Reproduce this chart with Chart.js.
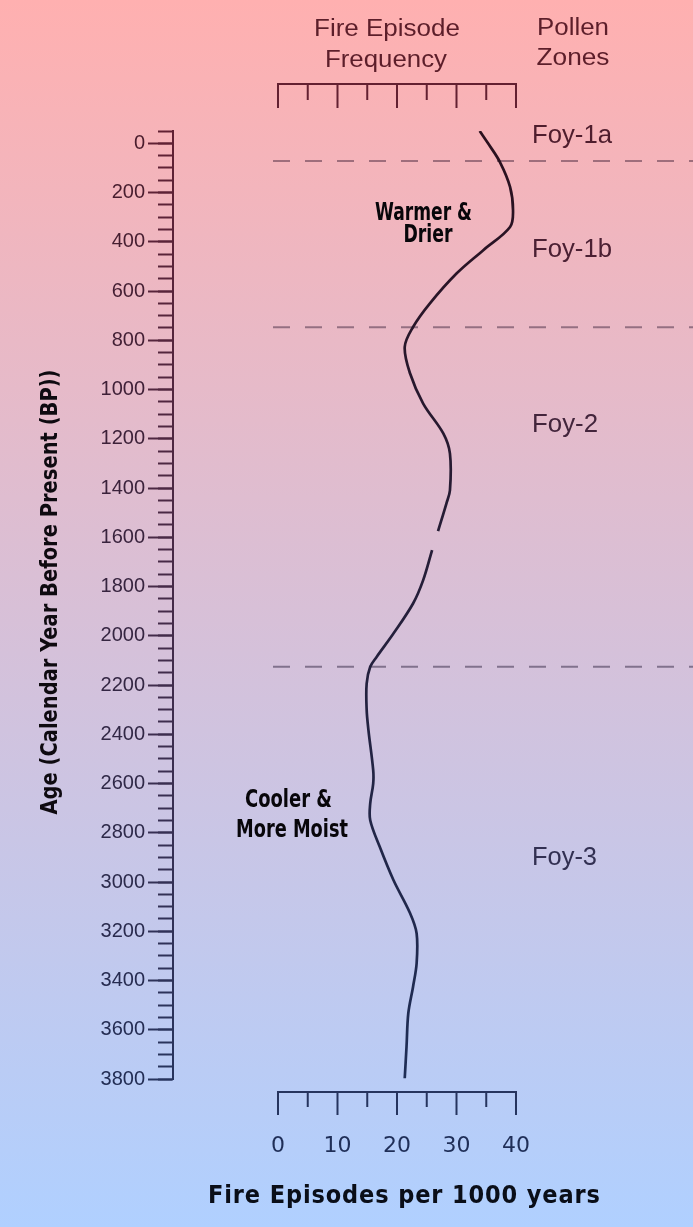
<!DOCTYPE html>
<html><head><meta charset="utf-8">
<script src="https://cdn.jsdelivr.net/npm/chart.js@4.4.1/dist/chart.umd.min.js"></script>
<style>
html,body{margin:0;padding:0;}
body{width:693px;height:1227px;overflow:hidden;background:linear-gradient(to bottom,#ffb0b0 0%,#b0d0ff 100%);}
#wrap{position:relative;width:693px;height:1227px;}
</style></head><body>
<div id="wrap"><canvas id="c"></canvas></div>
<script>
// ---- data ----
const ages = [-50, 0, 76, 177, 272, 340, 434, 529, 651, 746, 827, 935, 1057, 1179, 1260, 1409, 1463, 1575, 1610, 1652, 1774, 1869, 1991, 2085, 2126, 2194, 2300, 2383, 2546, 2600, 2681, 2749, 2857, 2992, 3127, 3209, 3330, 3425, 3533, 3669, 3797];
const fireFreq = [33.9, 35.3, 37.3, 39.0, 39.5, 39.0, 34.5, 30.0, 25.5, 22.7, 21.3, 22.2, 24.4, 27.8, 28.9, 28.9, 28.3, 26.9, null, 25.9, 24.4, 22.7, 19.4, 16.6, 15.5, 14.9, 14.9, 15.2, 16.0, 16.0, 15.5, 15.5, 17.1, 19.4, 22.2, 23.3, 23.3, 22.7, 21.9, 21.6, 21.3];
const zoneBoundaries = [72, 747, 2126];
const zoneNames = ['Foy-1a', 'Foy-1b', 'Foy-2', 'Foy-3'];
const xTickValues = [0, 10, 20, 30, 40];
const xCombValues = [0, 5, 10, 15, 20, 25, 30, 35, 40];
const yMajorTicks = [0, 200, 400, 600, 800, 1000, 1200, 1400, 1600, 1800, 2000, 2200, 2400, 2600, 2800, 3000, 3200, 3400, 3600, 3800];
const yMinorTicks = [-50, 0, 50, 100, 150, 200, 250, 300, 350, 400, 450, 500, 550, 600, 650, 700, 750, 800, 850, 900, 950, 1000, 1050, 1100, 1150, 1200, 1250, 1300, 1350, 1400, 1450, 1500, 1550, 1600, 1650, 1700, 1750, 1800, 1850, 1900, 1950, 2000, 2050, 2100, 2150, 2200, 2250, 2300, 2350, 2400, 2450, 2500, 2550, 2600, 2650, 2700, 2750, 2800, 2850, 2900, 2950, 3000, 3050, 3100, 3150, 3200, 3250, 3300, 3350, 3400, 3450, 3500, 3550, 3600, 3650, 3700, 3750, 3800];
const texts = {
  topTitle: ['Fire Episode', 'Frequency'],
  zoneTitle: ['Pollen', 'Zones'],
  warm: ['Warmer &', 'Drier'],
  cool: ['Cooler &', 'More Moist'],
  xTitle: 'Fire Episodes per 1000 years',
  yTitle: 'Age (Calendar Year Before Present (BP))'
};

// ---- styling ----
const canvas = document.getElementById('c');
const ctx = canvas.getContext('2d');
const H = 1227;
function vgrad(top, bottom) {
  const g = ctx.createLinearGradient(0, 0, 0, H);
  g.addColorStop(0, 'rgb(' + top.join(',') + ')');
  g.addColorStop(1, 'rgb(' + bottom.join(',') + ')');
  return g;
}
function colorAt(y, top, bottom) {
  const t = Math.max(0, Math.min(1, y / H));
  return 'rgb(' + top.map((v, i) => Math.round(v + (bottom[i] - v) * t)).join(',') + ')';
}
const AXIS_TOP = [105, 30, 45], AXIS_BOT = [30, 55, 100];
const TXT_TOP = [80, 25, 38], TXT_BOT = [28, 48, 90];
const axisG = vgrad(AXIS_TOP, AXIS_BOT);
const curveG = vgrad([45, 12, 22], [28, 50, 95]);
const dashG = vgrad([168, 108, 118], [95, 118, 160]);

const REG = '"Liberation Sans", Arial, sans-serif';
const BOLD = '"Liberation Sans Narrow", "DejaVu Sans Condensed", "Liberation Sans", sans-serif';

function drawFit(c, text, x, y, width, font, color, align, mode) {
  c.save();
  c.font = font; c.fillStyle = color; c.textBaseline = 'alphabetic'; c.textAlign = 'left';
  const hasLS = 'letterSpacing' in c;
  if (hasLS) c.letterSpacing = '0px';
  const w0 = c.measureText(text).width;
  const left = align === 'left' ? x : x - width / 2;
  const ls = text.length > 1 ? (width - w0) / (text.length - 1) : 0;
  if (hasLS && mode !== 'scale' && ls >= 0) {
    c.letterSpacing = ls.toFixed(2) + 'px';
    c.fillText(text, left, y);
  } else {
    c.translate(left, y); c.scale(width / w0, 1); c.fillText(text, 0, 0);
  }
  c.restore();
}

const decor = {
  id: 'decor',
  afterDraw(chart) {
    const c = chart.ctx;
    const xs = chart.scales.x;
    // combs (top and bottom frequency axes)
    c.save();
    c.strokeStyle = axisG; c.lineWidth = 2; c.lineCap = 'butt';
    const combs = [{base: 84, major: 108, minor: 100}, {base: 1092, major: 1115, minor: 1107}];
    combs.forEach(cb => {
      const x0 = xs.getPixelForValue(xCombValues[0]);
      const x1 = xs.getPixelForValue(xCombValues[xCombValues.length - 1]);
      c.beginPath();
      c.moveTo(x0, cb.base); c.lineTo(x1, cb.base);
      xCombValues.forEach(v => {
        const px = xs.getPixelForValue(v);
        c.moveTo(px, cb.base - 1);
        c.lineTo(px, v % 10 === 0 ? cb.major : cb.minor);
      });
      c.stroke();
    });
    c.restore();

    const titleCol = 'rgb(92,30,42)';
    drawFit(c, texts.topTitle[0], 387, 36, 146, '23px ' + REG, titleCol, 'center', 'scale');
    drawFit(c, texts.topTitle[1], 386, 66.5, 122, '23px ' + REG, titleCol, 'center', 'scale');
    drawFit(c, texts.zoneTitle[0], 573, 35, 72, '23px ' + REG, titleCol, 'center', 'scale');
    drawFit(c, texts.zoneTitle[1], 573, 65, 73, '23px ' + REG, titleCol, 'center', 'scale');

    const zonePos = [[143, 80], [257, 80], [432, 66], [865, 65]];
    zoneNames.forEach((n, i) => drawFit(c, n, 532, zonePos[i][0], zonePos[i][1], '25px ' + REG,
      colorAt(zonePos[i][0], [85, 25, 38], [35, 58, 100]), 'left', 'scale'));

    const dark = 'rgb(8,6,10)';
    drawFit(c, texts.warm[0], 423.5, 220, 97, 'bold 25px ' + BOLD, dark);
    drawFit(c, texts.warm[1], 428, 242, 49, 'bold 25px ' + BOLD, dark);
    drawFit(c, texts.cool[0], 288.5, 807, 87, 'bold 25px ' + BOLD, dark);
    drawFit(c, texts.cool[1], 292, 837, 112, 'bold 25px ' + BOLD, dark);
    drawFit(c, texts.xTitle, 404, 1203, 392, 'bold 25px ' + BOLD, 'rgb(10,14,24)');

    c.save();
    c.translate(57, 592); c.rotate(-Math.PI / 2);
    drawFit(c, texts.yTitle, 0, 0, 445, 'bold 23.5px ' + BOLD, 'rgb(14,10,16)');
    c.restore();
  }
};

const datasets = [{
  label: 'Fire episodes',
  data: ages.map((a, i) => ({x: fireFreq[i], y: a})),
  indexAxis: 'y',
  borderColor: curveG,
  borderWidth: 2.7,
  pointRadius: 0,
  tension: 0.35,
  spanGaps: false,
  order: 0
}].concat(zoneBoundaries.map(a => ({
  label: 'zone ' + a,
  data: [{x: -0.84, y: a}, {x: 69.75, y: a}],
  borderColor: dashG,
  borderWidth: 2,
  borderDash: [17, 15],
  pointRadius: 0,
  order: 1
})));

new Chart(ctx, {
  type: 'line',
  data: {datasets},
  options: {
    responsive: true,
    maintainAspectRatio: false,
    animation: false,
    layout: {padding: {top: 131, left: 0, right: 0, bottom: 0}},
    plugins: {legend: {display: false}, tooltip: {enabled: false}},
    events: [],
    scales: {
      x: {
        type: 'linear', position: 'bottom', min: -17.647, max: 69.748,
        afterBuildTicks: s => { s.ticks = xTickValues.map(v => ({value: v})); },
        afterFit: s => { s.height = 148; },
        grid: {display: false, drawTicks: false},
        border: {display: false},
        ticks: {color: colorAt(1145, TXT_TOP, TXT_BOT), font: {family: 'DejaVu Sans', size: 22}, padding: 54, maxRotation: 0, autoSkip: false, callback: v => String(v)}
      },
      y: {
        type: 'linear', position: 'left', reverse: true, min: -50, max: 3800, weight: 1,
        afterBuildTicks: s => { s.ticks = yMajorTicks.map(v => ({value: v})); },
        afterFit: s => { s.width = 173; },
        grid: {drawOnChartArea: false, drawTicks: true, tickLength: 25, tickWidth: 2, tickColor: axisG},
        border: {display: true, color: axisG, width: 2},
        ticks: {
          color: c => colorAt(c.chart.scales.y.getPixelForValue(c.tick.value), TXT_TOP, TXT_BOT),
          font: {family: 'Liberation Sans', size: 20}, padding: 3, autoSkip: false, callback: v => String(v)
        }
      },
      y2: {
        type: 'linear', position: 'left', reverse: true, min: -50, max: 3800, weight: 0,
        afterBuildTicks: s => { s.ticks = yMinorTicks.map(v => ({value: v})); },
        afterFit: s => { s.width = 0; },
        grid: {drawOnChartArea: false, drawTicks: true, tickLength: 15, tickWidth: 2, tickColor: axisG},
        border: {display: false},
        ticks: {display: false}
      }
    }
  },
  plugins: [decor]
});
</script>
</body></html>
